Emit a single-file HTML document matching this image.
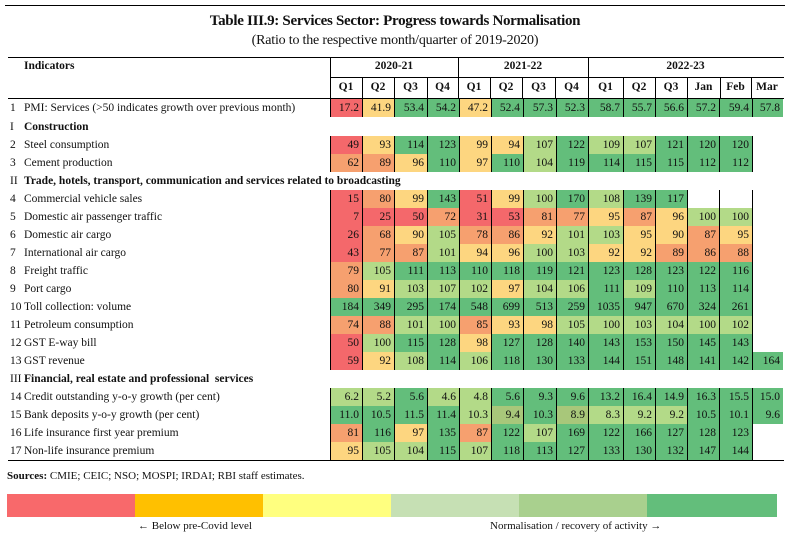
<!DOCTYPE html>
<html><head><meta charset="utf-8"><style>
*{margin:0;padding:0;box-sizing:border-box}
body{width:790px;height:540px;background:#fff;position:relative;overflow:hidden;font-family:"Liberation Serif",serif;color:#111;font-size:11.5px}
.hl{position:absolute;height:1px;background:#000}
.vl{position:absolute;width:1px;background:#000}
.t{position:absolute;white-space:nowrap}
.r{position:absolute;left:8px;width:776px;height:18px;display:flex;line-height:18px}
.n{width:16px;padding-left:2px}
.l{width:306px;padding-left:0}
.s{font-weight:bold}
i{font-style:normal;width:32px;border-left:1px solid #000;text-align:right;padding-right:3px;height:18px;display:block}
i:nth-of-type(3),i:nth-of-type(7),i:nth-of-type(13){width:33px}
i:nth-of-type(9){width:35px}
i:nth-of-type(14){width:31px}
.R{background:#f4686b}.O{background:#f6a06f}.Y{background:#fdd680}.L{background:#b3da88}.G{background:#63be7b}.M{background:#a8c77a}.W{background:#fff}
.lg{position:absolute;top:494px;height:23px;width:129px}
</style></head><body>
<div class="hl" style="left:5px;width:780px;top:5px"></div>
<div class="t" style="left:0;width:790px;text-align:center;top:13px;font-size:15px;font-weight:bold;letter-spacing:-0.3px">Table III.9: Services Sector: Progress towards Normalisation</div>
<div class="t" style="left:0;width:790px;text-align:center;top:33px;font-size:14px;letter-spacing:-0.2px">(Ratio to the respective month/quarter of 2019-2020)</div>
<div class="hl" style="left:8px;width:776px;top:57px"></div>
<div class="hl" style="left:330px;width:454px;top:77px"></div>
<div class="hl" style="left:8px;width:776px;top:98px"></div>
<div class="vl" style="left:330px;top:57px;height:41px"></div>
<div class="vl" style="left:458px;top:57px;height:41px"></div>
<div class="vl" style="left:588px;top:57px;height:41px"></div>
<div class="vl" style="left:362px;top:77px;height:21px"></div>
<div class="vl" style="left:394px;top:77px;height:21px"></div>
<div class="vl" style="left:427px;top:77px;height:21px"></div>
<div class="vl" style="left:490px;top:77px;height:21px"></div>
<div class="vl" style="left:522px;top:77px;height:21px"></div>
<div class="vl" style="left:555px;top:77px;height:21px"></div>
<div class="vl" style="left:623px;top:77px;height:21px"></div>
<div class="vl" style="left:655px;top:77px;height:21px"></div>
<div class="vl" style="left:687px;top:77px;height:21px"></div>
<div class="vl" style="left:720px;top:77px;height:21px"></div>
<div class="vl" style="left:751px;top:77px;height:21px"></div>
<div class="t s" style="left:24px;top:60px">Indicators</div>
<div class="t s" style="left:330px;width:128px;text-align:center;top:60px">2020-21</div>
<div class="t s" style="left:458px;width:130px;text-align:center;top:60px">2021-22</div>
<div class="t s" style="left:588px;width:195px;text-align:center;top:60px">2022-23</div>
<div class="t s" style="left:330px;width:32px;text-align:center;top:81px">Q1</div>
<div class="t s" style="left:362px;width:32px;text-align:center;top:81px">Q2</div>
<div class="t s" style="left:394px;width:33px;text-align:center;top:81px">Q3</div>
<div class="t s" style="left:427px;width:31px;text-align:center;top:81px">Q4</div>
<div class="t s" style="left:458px;width:32px;text-align:center;top:81px">Q1</div>
<div class="t s" style="left:490px;width:32px;text-align:center;top:81px">Q2</div>
<div class="t s" style="left:522px;width:33px;text-align:center;top:81px">Q3</div>
<div class="t s" style="left:555px;width:33px;text-align:center;top:81px">Q4</div>
<div class="t s" style="left:588px;width:35px;text-align:center;top:81px">Q1</div>
<div class="t s" style="left:623px;width:32px;text-align:center;top:81px">Q2</div>
<div class="t s" style="left:655px;width:32px;text-align:center;top:81px">Q3</div>
<div class="t s" style="left:687px;width:33px;text-align:center;top:81px">Jan</div>
<div class="t s" style="left:720px;width:31px;text-align:center;top:81px">Feb</div>
<div class="t s" style="left:751px;width:32px;text-align:center;top:81px">Mar</div>

<div class="r" style="top:99px;height:19px"><span class="n">1</span><span class="l">PMI: Services (&gt;50 indicates growth over previous month)</span><i class="R">17.2</i><i class="Y">41.9</i><i class="G">53.4</i><i class="G">54.2</i><i class="Y">47.2</i><i class="G">52.4</i><i class="G">57.3</i><i class="G">52.3</i><i class="G">58.7</i><i class="G">55.7</i><i class="G">56.6</i><i class="G">57.2</i><i class="G">59.4</i><i class="G">57.8</i></div>
<div class="r" style="top:118px"><span class="n">I</span><span class="l s">Construction</span></div>
<div class="r" style="top:136px"><span class="n">2</span><span class="l">Steel consumption</span><i class="R">49</i><i class="Y">93</i><i class="G">114</i><i class="G">123</i><i class="Y">99</i><i class="Y">94</i><i class="L">107</i><i class="G">122</i><i class="L">109</i><i class="L">107</i><i class="G">121</i><i class="G">120</i><i class="G">120</i><i class="W"></i></div>
<div class="r" style="top:154px"><span class="n">3</span><span class="l">Cement production</span><i class="O">62</i><i class="O">89</i><i class="Y">96</i><i class="G">110</i><i class="Y">97</i><i class="G">110</i><i class="L">104</i><i class="G">119</i><i class="G">114</i><i class="G">115</i><i class="G">115</i><i class="G">112</i><i class="G">112</i><i class="W"></i></div>
<div class="r" style="top:172px"><span class="n">II</span><span class="l s" style="width:700px">Trade, hotels, transport, communication and services related to broadcasting</span></div>
<div class="r" style="top:190px"><span class="n">4</span><span class="l">Commercial vehicle sales</span><i class="R">15</i><i class="O">80</i><i class="Y">99</i><i class="G">143</i><i class="R">51</i><i class="Y">99</i><i class="L">100</i><i class="G">170</i><i class="L">108</i><i class="G">139</i><i class="G">117</i><i class="W"></i><i class="W"></i><i class="W"></i></div>
<div class="r" style="top:208px"><span class="n">5</span><span class="l">Domestic air passenger traffic</span><i class="R">7</i><i class="R">25</i><i class="R">50</i><i class="O">72</i><i class="R">31</i><i class="R">53</i><i class="O">81</i><i class="O">77</i><i class="Y">95</i><i class="O">87</i><i class="Y">96</i><i class="L">100</i><i class="L">100</i><i class="W"></i></div>
<div class="r" style="top:226px"><span class="n">6</span><span class="l">Domestic air cargo</span><i class="R">26</i><i class="O">68</i><i class="Y">90</i><i class="L">105</i><i class="O">78</i><i class="O">86</i><i class="Y">92</i><i class="L">101</i><i class="L">103</i><i class="Y">95</i><i class="Y">90</i><i class="O">87</i><i class="Y">95</i><i class="W"></i></div>
<div class="r" style="top:244px"><span class="n">7</span><span class="l">International air cargo</span><i class="R">43</i><i class="O">77</i><i class="O">87</i><i class="L">101</i><i class="Y">94</i><i class="Y">96</i><i class="L">100</i><i class="L">103</i><i class="Y">92</i><i class="Y">92</i><i class="O">89</i><i class="O">86</i><i class="O">88</i><i class="W"></i></div>
<div class="r" style="top:262px"><span class="n">8</span><span class="l">Freight traffic</span><i class="O">79</i><i class="L">105</i><i class="G">111</i><i class="G">113</i><i class="G">110</i><i class="G">118</i><i class="G">119</i><i class="G">121</i><i class="G">123</i><i class="G">128</i><i class="G">123</i><i class="G">122</i><i class="G">116</i><i class="W"></i></div>
<div class="r" style="top:280px"><span class="n">9</span><span class="l">Port cargo</span><i class="O">80</i><i class="Y">91</i><i class="L">103</i><i class="L">107</i><i class="L">102</i><i class="Y">97</i><i class="L">104</i><i class="L">106</i><i class="G">111</i><i class="L">109</i><i class="G">110</i><i class="G">113</i><i class="G">114</i><i class="W"></i></div>
<div class="r" style="top:298px"><span class="n">10</span><span class="l">Toll collection: volume</span><i class="G">184</i><i class="G">349</i><i class="G">295</i><i class="G">174</i><i class="G">548</i><i class="G">699</i><i class="G">513</i><i class="G">259</i><i class="G">1035</i><i class="G">947</i><i class="G">670</i><i class="G">324</i><i class="G">261</i><i class="W"></i></div>
<div class="r" style="top:316px"><span class="n">11</span><span class="l">Petroleum consumption</span><i class="O">74</i><i class="O">88</i><i class="L">101</i><i class="L">100</i><i class="O">85</i><i class="Y">93</i><i class="Y">98</i><i class="L">105</i><i class="L">100</i><i class="L">103</i><i class="L">104</i><i class="L">100</i><i class="L">102</i><i class="W"></i></div>
<div class="r" style="top:334px"><span class="n">12</span><span class="l">GST E-way bill</span><i class="R">50</i><i class="L">100</i><i class="G">115</i><i class="G">128</i><i class="Y">98</i><i class="G">127</i><i class="G">128</i><i class="G">140</i><i class="G">143</i><i class="G">153</i><i class="G">150</i><i class="G">145</i><i class="G">143</i><i class="W"></i></div>
<div class="r" style="top:352px"><span class="n">13</span><span class="l">GST revenue</span><i class="R">59</i><i class="Y">92</i><i class="L">108</i><i class="G">114</i><i class="L">106</i><i class="G">118</i><i class="G">130</i><i class="G">133</i><i class="G">144</i><i class="G">151</i><i class="G">148</i><i class="G">141</i><i class="G">142</i><i class="G">164</i></div>
<div class="r" style="top:370px"><span class="n">III</span><span class="l s" style="width:700px">Financial, real estate and professional &nbsp;services</span></div>
<div class="r" style="top:388px"><span class="n">14</span><span class="l">Credit outstanding y-o-y growth (per cent)</span><i class="L">6.2</i><i class="L">5.2</i><i class="G">5.6</i><i class="L">4.6</i><i class="L">4.8</i><i class="G">5.6</i><i class="G">9.3</i><i class="G">9.6</i><i class="G">13.2</i><i class="G">16.4</i><i class="G">14.9</i><i class="G">16.3</i><i class="G">15.5</i><i class="G">15.0</i></div>
<div class="r" style="top:406px"><span class="n">15</span><span class="l">Bank deposits y-o-y growth (per cent)</span><i class="G">11.0</i><i class="G">10.5</i><i class="G">11.5</i><i class="G">11.4</i><i class="L">10.3</i><i class="M">9.4</i><i class="G">10.3</i><i class="M">8.9</i><i class="L">8.3</i><i class="L">9.2</i><i class="L">9.2</i><i class="G">10.5</i><i class="G">10.1</i><i class="G">9.6</i></div>
<div class="r" style="top:424px"><span class="n">16</span><span class="l">Life insurance first year premium</span><i class="O">81</i><i class="G">116</i><i class="Y">97</i><i class="G">135</i><i class="O">87</i><i class="G">122</i><i class="L">107</i><i class="G">169</i><i class="G">122</i><i class="G">166</i><i class="G">127</i><i class="G">128</i><i class="G">123</i><i class="W"></i></div>
<div class="r" style="top:442px"><span class="n">17</span><span class="l">Non-life insurance premium</span><i class="Y">95</i><i class="L">105</i><i class="L">104</i><i class="G">115</i><i class="L">107</i><i class="G">118</i><i class="G">113</i><i class="G">127</i><i class="G">133</i><i class="G">130</i><i class="G">132</i><i class="G">147</i><i class="G">144</i><i class="W"></i></div>
<div class="hl" style="left:8px;width:776px;top:460px"></div>

<div class="t" style="left:7px;top:470px;font-size:11px"><b>Sources:</b> CMIE; CEIC; NSO; MOSPI; IRDAI; RBI staff estimates.</div>
<div class="lg" style="left:7px;background:#f8696b"></div>
<div class="lg" style="left:135px;background:#ffc000"></div>
<div class="lg" style="left:263px;background:#ffff7f"></div>
<div class="lg" style="left:391px;background:#c6e0b4"></div>
<div class="lg" style="left:519px;background:#a9d08e"></div>
<div class="lg" style="left:647px;width:130px;background:#63be7b"></div>
<div class="t" style="left:138px;top:520px;font-size:11px">← Below pre-Covid level</div>
<div class="t" style="left:490px;top:520px;font-size:11px">Normalisation / recovery of activity →</div>
</body></html>
